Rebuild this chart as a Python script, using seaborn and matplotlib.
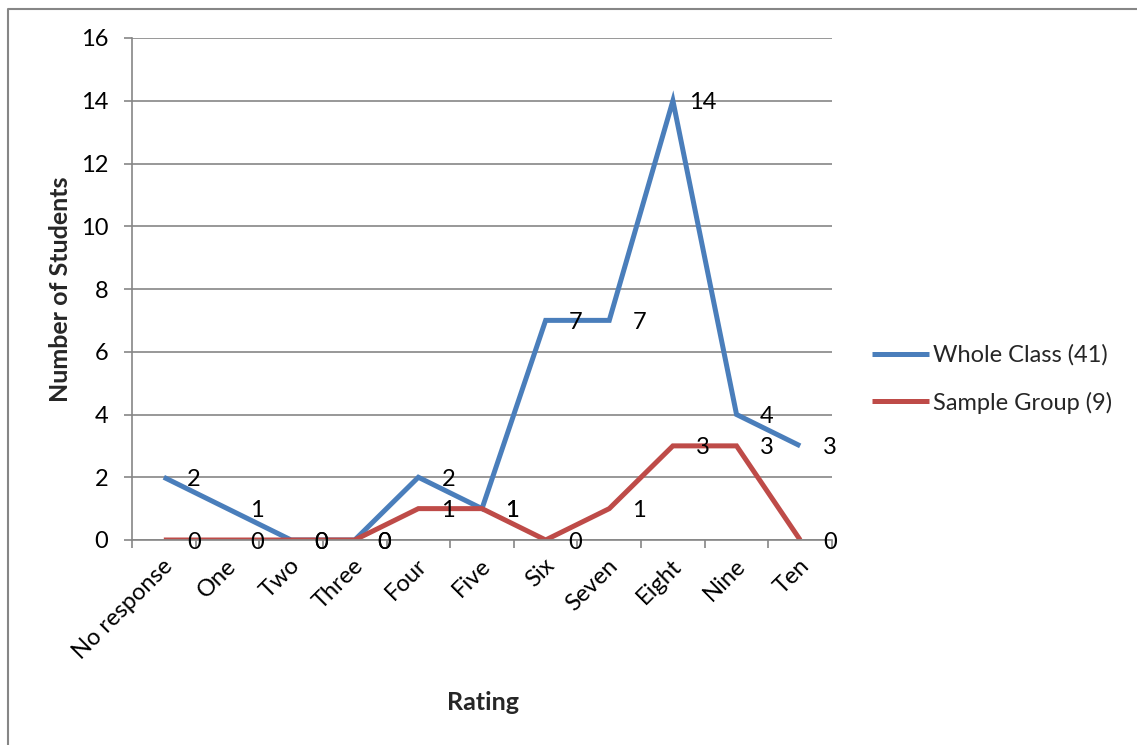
import matplotlib
matplotlib.use("Agg")
import matplotlib.pyplot as plt
import matplotlib.transforms as mtransforms
from matplotlib.lines import Line2D
import seaborn as sns
import pandas as pd

categories = ["No response", "One", "Two", "Three", "Four", "Five",
              "Six", "Seven", "Eight", "Nine", "Ten"]
whole_class = [2, 1, 0, 0, 2, 1, 7, 7, 14, 4, 3]
sample_group = [0, 0, 0, 0, 1, 1, 0, 1, 3, 3, 0]
series_names = ["Whole Class (41)", "Sample Group (9)"]
y_ticks = [0, 2, 4, 6, 8, 10, 12, 14, 16]

sns.set_theme(style="white")
plt.rcParams["font.family"] = ["Lato", "DejaVu Sans"]

W, H = 1137, 745
FS = 17
fig = plt.figure(figsize=(W / 100, H / 100), dpi=100)
ax = fig.add_axes([132 / W, (H - 540) / H, 700 / W, 502 / H])

df = pd.DataFrame({
    "Rating": categories * 2,
    "Students": whole_class + sample_group,
    "Series": [series_names[0]] * len(categories) + [series_names[1]] * len(categories),
})
colors = {series_names[0]: "#4A7EBB", series_names[1]: "#BE4B48"}
sns.lineplot(data=df, x="Rating", y="Students", hue="Series", sort=False,
             palette=colors, linewidth=3.6, ax=ax, legend=True)
for ln in ax.lines:
    ln.set_solid_joinstyle("miter")
    ln.set_solid_capstyle("butt")

ax.set_xlim(-0.5, len(categories) - 0.5)
ax.set_ylim(0, 16)
ax.set_yticks(y_ticks)
ax.set_yticklabels([str(v) for v in y_ticks], fontsize=FS, color="black")
ax.yaxis.grid(True, color="#868686", linewidth=1.2)
ax.set_axisbelow(True)

for s in ["top", "right"]:
    ax.spines[s].set_visible(False)
for s in ["left", "bottom"]:
    ax.spines[s].set_color("#868686")
    ax.spines[s].set_linewidth(1.2)

ax.tick_params(axis="y", direction="out", length=6, width=1.2, color="#868686", pad=11, left=True)
ax.set_xticks(range(len(categories)))
ax.set_xticklabels(categories, rotation=45, ha="right", va="top",
                   rotation_mode="anchor", fontsize=FS, color="black")
ax.tick_params(axis="x", which="major", length=0, pad=0, bottom=True)
ax.set_xticks([i - 0.5 for i in range(len(categories) + 1)], minor=True)
ax.tick_params(axis="x", which="minor", direction="out", length=6, width=1.2,
               color="#868686", bottom=True)
offset = mtransforms.ScaledTranslation(-2 / 100, -15 / 100, fig.dpi_scale_trans)
for lbl in ax.get_xticklabels():
    lbl.set_transform(lbl.get_transform() + offset)

for vals in (whole_class, sample_group):
    for i, v in enumerate(vals):
        ax.annotate(str(v), xy=(i, v), xytext=(21.5, -1.5), textcoords="offset points",
                    ha="center", va="center", fontsize=FS, color="black",
                    annotation_clip=False)

ax.set_xlabel("")
ax.set_ylabel("")
fig.text(483 / W, (H - 703) / H, "Rating", ha="center", va="center",
         fontsize=18, fontweight="bold")
fig.text(60 / W, (H - 289) / H, "Number of Students", ha="center", va="center",
         rotation=90, fontsize=18, fontweight="bold")

handles, labels = ax.get_legend_handles_labels()
ax.legend(handles, labels, loc="center left", bbox_to_anchor=(872 / W, (H - 379) / H),
          bbox_transform=fig.transFigure, frameon=False, fontsize=FS,
          handlelength=2.4, handletextpad=0.2, labelspacing=1.08,
          borderpad=0, borderaxespad=0)

fig.add_artist(Line2D([8 / W, 8 / W, 1.01], [-0.01, (H - 9) / H, (H - 9) / H],
                      transform=fig.transFigure, color="#868686", linewidth=1.5))

fig.savefig("out.png", dpi=100)
